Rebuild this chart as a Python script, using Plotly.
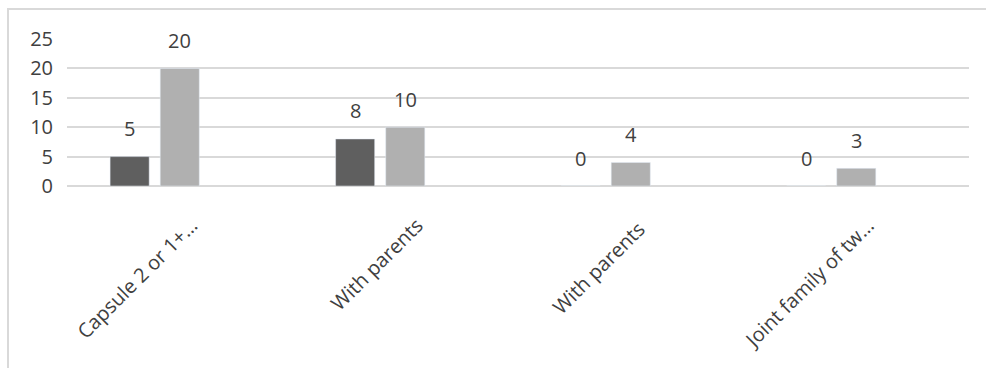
import plotly.graph_objects as go

categories = ["Capsule 2 or 1+…", "With parents", "With parents ", "Joint family of tw…"]
series_a = [5, 8, 0, 0]
series_b = [20, 10, 4, 3]
series_c = [None, None, None, None]

dark = "#5f5f5f"
light = "#b0b0b0"
text_col = "#404040"
grid_col = "#d9d9d9"
font_family = "Open Sans"

fig = go.Figure()
fig.add_trace(go.Bar(x=categories, y=series_a, marker_color=dark, name="A"))
fig.add_trace(go.Bar(x=categories, y=series_b, marker_color=light, name="B"))
fig.add_trace(go.Bar(x=categories, y=series_c, marker_color="#d0d0d0", name="C"))

annotations = []
for cat, v in zip(categories, series_a):
    annotations.append(dict(x=cat, y=v, xref="x", yref="y", text=str(v), showarrow=False,
                            xshift=-50, yshift=28, yanchor="middle",
                            font=dict(family=font_family, size=20, color=text_col)))
for cat, v in zip(categories, series_b):
    annotations.append(dict(x=cat, y=v, xref="x", yref="y", text=str(v), showarrow=False,
                            xshift=0, yshift=28, yanchor="middle",
                            font=dict(family=font_family, size=20, color=text_col)))

L, R, T, B = 67, 17, 39, 182
W, H = 986, 368
pw, ph = W - L - R, H - T - B

def px_to_paper_x(px):
    return (px - L) / pw

def px_to_paper_y(py):
    return (H - B - py) / ph

fig.update_layout(
    width=W, height=H,
    margin=dict(l=L, r=R, t=T, b=B),
    paper_bgcolor="white", plot_bgcolor="white",
    barmode="group", bargap=1/3, bargroupgap=0.22,
    showlegend=False,
    annotations=annotations,
    font=dict(family=font_family, size=20, color=text_col),
    shapes=[dict(type="rect", xref="paper", yref="paper",
                 x0=px_to_paper_x(8), x1=px_to_paper_x(992),
                 y0=px_to_paper_y(372), y1=px_to_paper_y(9),
                 line=dict(color="#d9d9d9", width=2), fillcolor="rgba(0,0,0,0)", layer="below")],
)
fig.update_xaxes(tickangle=-45, showgrid=False, showline=False, ticks="",
                 tickfont=dict(family=font_family, size=20, color=text_col),
                 ticklabelstandoff=23, ticklabelshift=12)
fig.update_yaxes(range=[0, 25], dtick=5, showgrid=True, gridcolor=grid_col, gridwidth=2,
                 zeroline=True, zerolinecolor=grid_col, zerolinewidth=2,
                 showline=False, ticks="",
                 tickfont=dict(family=font_family, size=20, color=text_col),
                 ticklabelstandoff=13)

fig.write_html("out.html")
